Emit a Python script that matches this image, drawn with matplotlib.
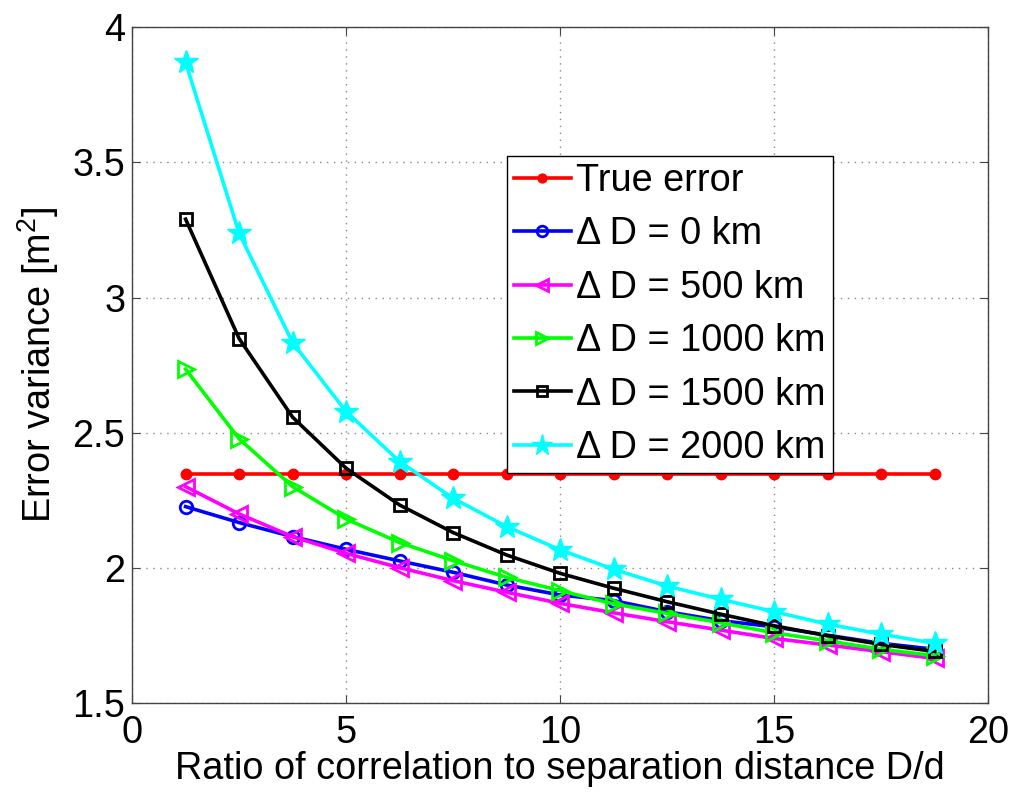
import matplotlib
matplotlib.use("Agg")
import matplotlib.pyplot as plt

plt.rcParams['font.family'] = ['Liberation Sans', 'DejaVu Sans']
plt.rcParams['mathtext.fontset'] = 'custom'
plt.rcParams['mathtext.rm'] = 'Liberation Sans'
plt.rcParams['mathtext.it'] = 'Liberation Sans'

# ratio D/d
ratio = [1.25, 2.5, 3.75, 5.0, 6.25, 7.5, 8.75, 10.0,
         11.25, 12.5, 13.75, 15.0, 16.25, 17.5, 18.75]

true_error = [2.346] * 15
dd_0 = [2.226, 2.167, 2.115, 2.068, 2.025, 1.983, 1.936, 1.899,
        1.878, 1.837, 1.804, 1.781, 1.750, 1.720, 1.698]
dd_500 = [2.300, 2.199, 2.115, 2.053, 2.000, 1.952, 1.909, 1.868,
          1.833, 1.800, 1.769, 1.738, 1.714, 1.689, 1.664]
dd_1000 = [2.735, 2.477, 2.300, 2.180, 2.093, 2.026, 1.964, 1.915,
           1.866, 1.831, 1.796, 1.759, 1.729, 1.698, 1.674]
dd_1500 = [3.290, 2.848, 2.557, 2.368, 2.232, 2.130, 2.047, 1.979,
           1.924, 1.874, 1.828, 1.785, 1.748, 1.716, 1.690]
dd_2000 = [3.870, 3.238, 2.833, 2.578, 2.393, 2.257, 2.152, 2.066,
           1.994, 1.932, 1.883, 1.837, 1.791, 1.754, 1.720]

fig = plt.figure(figsize=(10.24, 8.05), dpi=100)
ax = fig.add_axes([0.129, 0.127, 0.836, 0.839])

lw = 2.6
fs = 27.3
ax.plot(ratio, true_error, '-o', color='#ff0000', lw=lw, ms=7.5, label='True error')
ax.plot(ratio, dd_0, '-o', color='#0000ff', lw=lw, ms=9, mfc='none', mew=2,
        label='\u0394 D = 0 km')
ax.plot(ratio, dd_500, '-<', color='#ff00ff', lw=lw, ms=11, mfc='none', mew=2,
        label='\u0394 D = 500 km')
ax.plot(ratio, dd_1000, '->', color='#00ff00', lw=lw, ms=11, mfc='none', mew=2,
        label='\u0394 D = 1000 km')
ax.plot(ratio, dd_1500, '-s', color='#000000', lw=lw, ms=8, mfc='none', mew=2,
        label='\u0394 D = 1500 km')
ax.plot(ratio, dd_2000, '-*', color='#00ffff', lw=lw, ms=18,
        label='\u0394 D = 2000 km')

ax.set_xlim(0, 20)
ax.set_ylim(1.5, 4)
ax.set_xticks([0, 5, 10, 15, 20])
ax.set_yticks([1.5, 2, 2.5, 3, 3.5, 4])
ax.set_yticklabels(['1.5', '2', '2.5', '3', '3.5', '4'])
ax.tick_params(direction='in', top=True, right=True, labelsize=fs,
               length=6, color='#444444')
ax.tick_params(axis='x', pad=9)
ax.tick_params(axis='y', pad=5)
for sp in ax.spines.values():
    sp.set_color('#444444')
    sp.set_linewidth(1.0)
ax.grid(True, linestyle=(0, (1, 4)), color='#888888', linewidth=1.0)

ax.set_xlabel('Ratio of correlation to separation distance D/d', fontsize=fs,
              labelpad=0)
ax.set_ylabel('Error variance [m$^2$]', fontsize=fs, labelpad=8)

leg = ax.legend(loc='upper left', bbox_to_anchor=(0.4375, 0.81), fontsize=fs,
                frameon=True, fancybox=False, edgecolor='black', framealpha=1,
                handlelength=1.5, handletextpad=0.15, labelspacing=0.46,
                borderpad=0.19, borderaxespad=0, markerscale=0.85)
leg.get_frame().set_linewidth(1.0)

fig.savefig('out.png', dpi=100, facecolor='white')
